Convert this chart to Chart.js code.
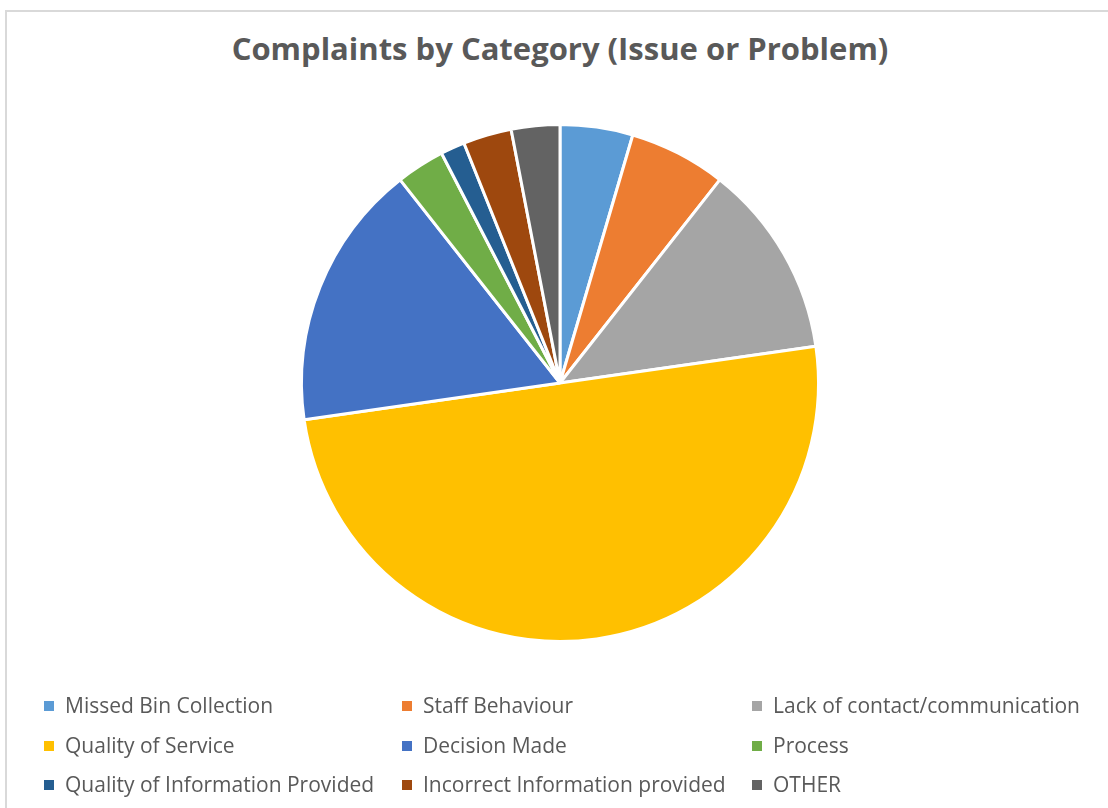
<!DOCTYPE html>
<html>
<head>
<meta charset="utf-8">
<script src="https://cdn.jsdelivr.net/npm/chart.js@4"></script>
<style>
  html, body { margin: 0; padding: 0; background: #fff; }
  #wrap { position: relative; width: 1108px; height: 808px; overflow: hidden; }
  #frame { position: absolute; left: 5px; top: 10px; width: 1120px; height: 820px;
           border: 2px solid #d9d9d9; box-sizing: border-box; }
  #title { position: absolute; left: 0; width: 1120px; top: 27px; text-align: center;
           font-family: "Open Sans", sans-serif; font-weight: bold; font-size: 31px;
           line-height: 42px; color: #595959; }
  #legend { position: absolute; left: 0; top: 0; width: 1108px; height: 808px; pointer-events: none; }
  .item { position: absolute; font-family: "Open Sans", sans-serif; font-size: 21px; color: #595959;
          white-space: nowrap; line-height: 24px; }
  .box { display: inline-block; width: 10px; height: 10px; margin-right: 11px; vertical-align: 2px; }
  canvas { position: absolute; left: 0; top: 0; }
</style>
</head>
<body>
<div id="wrap">
  <div id="frame"></div>
  <div id="title">Complaints by Category (Issue or Problem)</div>
  <canvas id="pie" width="1108" height="808"></canvas>
  <div id="legend"></div>
</div>
<script>
"use strict";

const categories = [
  "Missed Bin Collection",
  "Staff Behaviour",
  "Lack of contact/communication",
  "Quality of Service",
  "Decision Made",
  "Process",
  "Quality of Information Provided",
  "Incorrect Information provided",
  "OTHER",
];
const complaints = [3, 4, 8, 33, 11, 2, 1, 2, 2];
const colours = ["#5b9bd5", "#ed7d31", "#a5a5a5", "#ffc000", "#4472c4", "#70ad47", "#255e91", "#9e480e", "#636363"];

// legend laid out in three columns, filled row by row
const legend_cols = [44, 402, 752];
const legend_rows = [693, 733, 772];

function build_legend() {
  let html = "";
  categories.forEach((name, i) => {
    let x = legend_cols[i % 3];
    let y = legend_rows[Math.floor(i / 3)];
    html += `<div class="item" style="left:${x}px;top:${y}px"><span class="box" style="background:${colours[i]}"></span>${name}</div>`;
  });
  document.querySelector("#legend").innerHTML = html;
}

const config = {
  type: "pie",
  data: {
    labels: categories,
    datasets: [
      {
        data: complaints,
        backgroundColor: colours,
        borderColor: "#ffffff",
        borderWidth: 3,
      },
    ],
  },
  options: {
    responsive: false,
    animation: false,
    layout: {
      padding: { left: 300, right: 288, top: 123, bottom: 165 },
    },
    plugins: {
      legend: { display: false },
      tooltip: { enabled: false },
    },
  },
};

build_legend();
new Chart(document.querySelector("#pie"), config);
</script>
</body>
</html>
